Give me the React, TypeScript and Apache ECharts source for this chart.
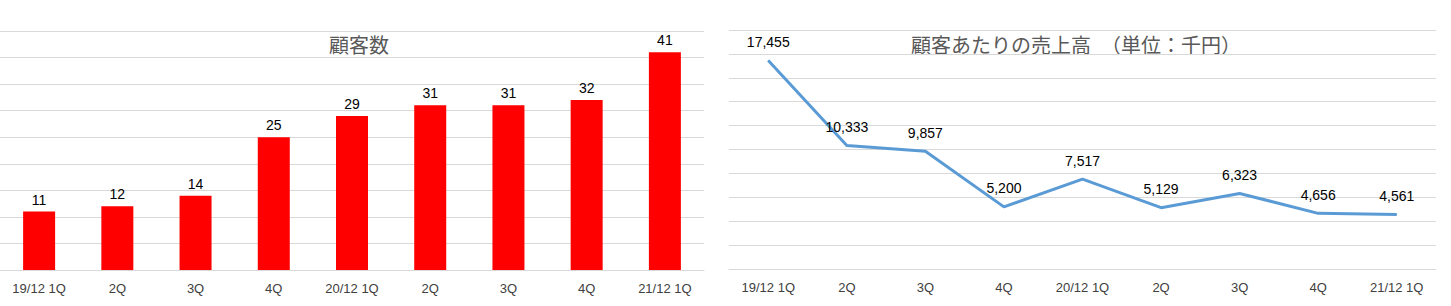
import React, { useEffect, useRef } from "react";
import * as echarts from "echarts";

const categories = ["19/12 1Q", "2Q", "3Q", "4Q", "20/12 1Q", "2Q", "3Q", "4Q", "21/12 1Q"];
const customerCounts = [11, 12, 14, 25, 29, 31, 31, 32, 41];
const salesPerCustomer = [17455, 10333, 9857, 5200, 7517, 5129, 6323, 4656, 4561];
const leftTitle = "顧客数";
const rightTitle = "顧客あたりの売上高　（単位：千円）";

const NUM_FONT = "'Liberation Sans', Arial, sans-serif";
const JP_FONT = "'Noto Sans CJK JP', sans-serif";
const GRID_COLOR = "#d9d9d9";

export default function App() {
  const ref = useRef<HTMLDivElement>(null);
  useEffect(() => {
    if (!ref.current) return;
    const chart = echarts.init(ref.current, undefined, { renderer: "svg" });
    const fmt = (v: number) => v.toLocaleString("en-US");
    chart.setOption({
      animation: false,
      backgroundColor: "#ffffff",
      grid: [
        { left: -1, top: 31, width: 705, height: 239 },
        { left: 729, top: 30, width: 707, height: 239 },
      ],
      xAxis: [
        {
          type: "category",
          gridIndex: 0,
          data: categories,
          boundaryGap: true,
          axisLine: { show: true, lineStyle: { color: GRID_COLOR, width: 1 } },
          axisTick: { show: false },
          axisLabel: { color: "#404040", fontSize: 13, fontFamily: NUM_FONT, margin: 12, interval: 0 },
        },
        {
          type: "category",
          gridIndex: 1,
          data: categories,
          boundaryGap: true,
          axisLine: { show: true, lineStyle: { color: GRID_COLOR, width: 1 } },
          axisTick: { show: false },
          axisLabel: { color: "#404040", fontSize: 13, fontFamily: NUM_FONT, margin: 12, interval: 0 },
        },
      ],
      yAxis: [
        {
          type: "value",
          gridIndex: 0,
          min: 0,
          max: 45,
          interval: 5,
          axisLine: { show: false },
          axisTick: { show: false },
          axisLabel: { show: false },
          splitLine: { show: true, lineStyle: { color: GRID_COLOR, width: 1 } },
        },
        {
          type: "value",
          gridIndex: 1,
          min: 0,
          max: 20000,
          interval: 2000,
          axisLine: { show: false },
          axisTick: { show: false },
          axisLabel: { show: false },
          splitLine: { show: true, lineStyle: { color: GRID_COLOR, width: 1 } },
        },
      ],
      series: [
        {
          type: "bar",
          xAxisIndex: 0,
          yAxisIndex: 0,
          data: customerCounts,
          barWidth: 32,
          itemStyle: { color: "#ff0000" },
          label: {
            show: true,
            position: "top",
            distance: 5,
            color: "#000000",
            fontSize: 14,
            fontFamily: NUM_FONT,
          },
        },
        {
          type: "line",
          xAxisIndex: 1,
          yAxisIndex: 1,
          data: salesPerCustomer,
          symbol: "circle",
          symbolSize: 1,
          showSymbol: true,
          lineStyle: { color: "#5b9bd5", width: 3 },
          itemStyle: { color: "#5b9bd5" },
          label: {
            show: true,
            position: "top",
            distance: 11,
            color: "#000000",
            fontSize: 14,
            fontFamily: NUM_FONT,
            formatter: (p: any) => fmt(p.value),
          },
        },
      ],
      graphic: [
        {
          type: "text",
          x: 359,
          y: 44,
          style: {
            text: leftTitle,
            font: `20px ${JP_FONT}`,
            fill: "#595959",
            align: "center",
            verticalAlign: "middle",
          },
        },
        {
          type: "text",
          x: 1076,
          y: 44,
          style: {
            text: rightTitle,
            font: `20px ${JP_FONT}`,
            fill: "#595959",
            align: "center",
            verticalAlign: "middle",
          },
        },
      ],
    });
    return () => chart.dispose();
  }, []);
  return (
    <div
      ref={ref}
      style={{ position: "fixed", left: 0, top: 0, width: 1451, height: 306, background: "#fff" }}
    />
  );
}
